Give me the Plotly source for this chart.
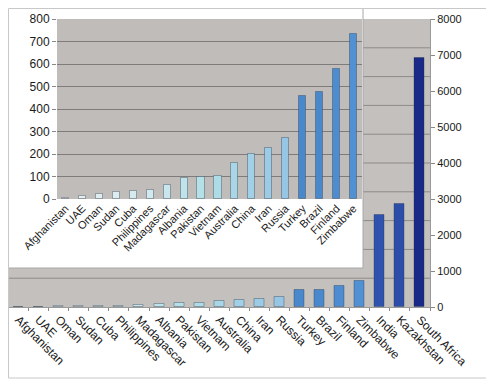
import plotly.graph_objects as go

# ---- data ----
countries = ["Afghanistan", "UAE", "Oman", "Sudan", "Cuba", "Philippines",
             "Madagascar", "Albania", "Pakistan", "Vietnam", "Australia", "China",
             "Iran", "Russia", "Turkey", "Brazil", "Finland", "Zimbabwe",
             "India", "Kazakhstan", "South Africa"]
values = [4, 12, 22, 29, 35, 41, 63, 95, 100, 101, 160, 200, 228, 273,
          460, 474, 578, 733, 2560, 2870, 6930]
inset_countries = countries[:18]
inset_values = values[:18]
main_ticks = [0, 1000, 2000, 3000, 4000, 5000, 6000, 7000, 8000]
inset_ticks = [0, 100, 200, 300, 400, 500, 600, 700, 800]

# ---- style ----
bar_colors = ["#e8eff0", "#e4eef0", "#e0edf0", "#dcecef", "#d6eaee", "#d0e8ee",
              "#c8e6ec", "#bfe3ea", "#b6e0e8", "#aedce6", "#a8d6e6", "#a2d0e6",
              "#9ccbe6", "#96c6e4", "#4a88cc", "#4a88cc", "#4d8ccf", "#5190d2",
              "#2f52ae", "#2c4ea8", "#1a2888"]
OFF = 8  # page body margin
W, H = 494 - OFF, 385 - OFF
FONT = "Liberation Sans, Arial, sans-serif"


def fx(px):
    return (px - OFF) / W


def fy(px):
    return 1 - (px - OFF) / H


main_x = [fx(8.5), fx(430)]
main_y = [fy(307), fy(19)]
inset_x = [fx(57), fx(362)]
inset_y = [fy(199), fy(19)]

fig = go.Figure()
fig.add_trace(go.Bar(x=countries, y=values, xaxis="x", yaxis="y",
                     marker=dict(color=bar_colors,
                                 line=dict(color="rgba(30,50,70,0.35)", width=1)),
                     width=0.5, showlegend=False, hoverinfo="x+y"))
fig.add_trace(go.Bar(x=inset_countries, y=inset_values, xaxis="x2", yaxis="y2",
                     marker=dict(color=bar_colors[:18],
                                 line=dict(color="rgba(30,50,70,0.35)", width=1)),
                     width=0.42, showlegend=False, hoverinfo="x+y"))

shapes = []
# main plot background
shapes.append(dict(type="rect", xref="x domain", yref="y domain", x0=0, x1=1, y0=0, y1=1,
                   fillcolor="#c3c0be", line=dict(width=0), layer="below"))
# main grid (10 bands)
for k in range(1, 10):
    shapes.append(dict(type="line", xref="x domain", yref="y domain", x0=0, x1=1,
                       y0=k / 10, y1=k / 10, line=dict(color="#8d8a88", width=1),
                       layer="below"))
# inset white frame
shapes.append(dict(type="rect", xref="paper", yref="paper", x0=fx(5), x1=fx(363),
                   y0=fy(268), y1=fy(5), fillcolor="white",
                   line=dict(color="#a8a8a8", width=1), layer="below"))
# inset plot background
shapes.append(dict(type="rect", xref="x2 domain", yref="y2 domain", x0=0, x1=1, y0=0, y1=1,
                   fillcolor="#c0bcba", line=dict(width=0), layer="below"))
# outer border
shapes.append(dict(type="rect", xref="paper", yref="paper", x0=fx(8.5), x1=fx(488),
                   y0=fy(378), y1=fy(8.5), fillcolor="rgba(0,0,0,0)",
                   line=dict(color="#c8c8c8", width=1), layer="above"))

fig.update_layout(
    width=W, height=H, autosize=False,
    margin=dict(l=0, r=0, t=0, b=0, pad=0),
    paper_bgcolor="white", plot_bgcolor="rgba(0,0,0,0)",
    font=dict(family=FONT, color="#1a1a1a", size=12),
    shapes=shapes,
    bargap=0,
    xaxis=dict(domain=main_x, anchor="y", range=[-0.5, 20.5], tickangle=45,
               tickfont=dict(size=12), ticks="outside", tickson="boundaries",
               ticklen=3, tickcolor="#888", showline=True, linecolor="#9a9a9a",
               showgrid=False, fixedrange=True, automargin=False),
    yaxis=dict(domain=main_y, anchor="x", side="right", range=[0, 8000],
               tickvals=main_ticks, showgrid=False, zeroline=False,
               ticks="outside", ticklen=4, tickcolor="#888",
               showline=True, linecolor="#9a9a9a", tickfont=dict(size=11),
               automargin=False),
    xaxis2=dict(domain=inset_x, anchor="y2", range=[-0.5, 17.5], tickangle=-45,
                tickfont=dict(size=11), ticks="", showline=False, showgrid=False,
                automargin=False),
    yaxis2=dict(domain=inset_y, anchor="x2", range=[0, 800], tickvals=inset_ticks,
                showgrid=True, gridcolor="#7e7b7a", gridwidth=1, zeroline=False,
                ticks="outside", ticklen=4, tickcolor="#888",
                tickfont=dict(size=12), showline=False, automargin=False),
)

fig.write_html("out.html")
